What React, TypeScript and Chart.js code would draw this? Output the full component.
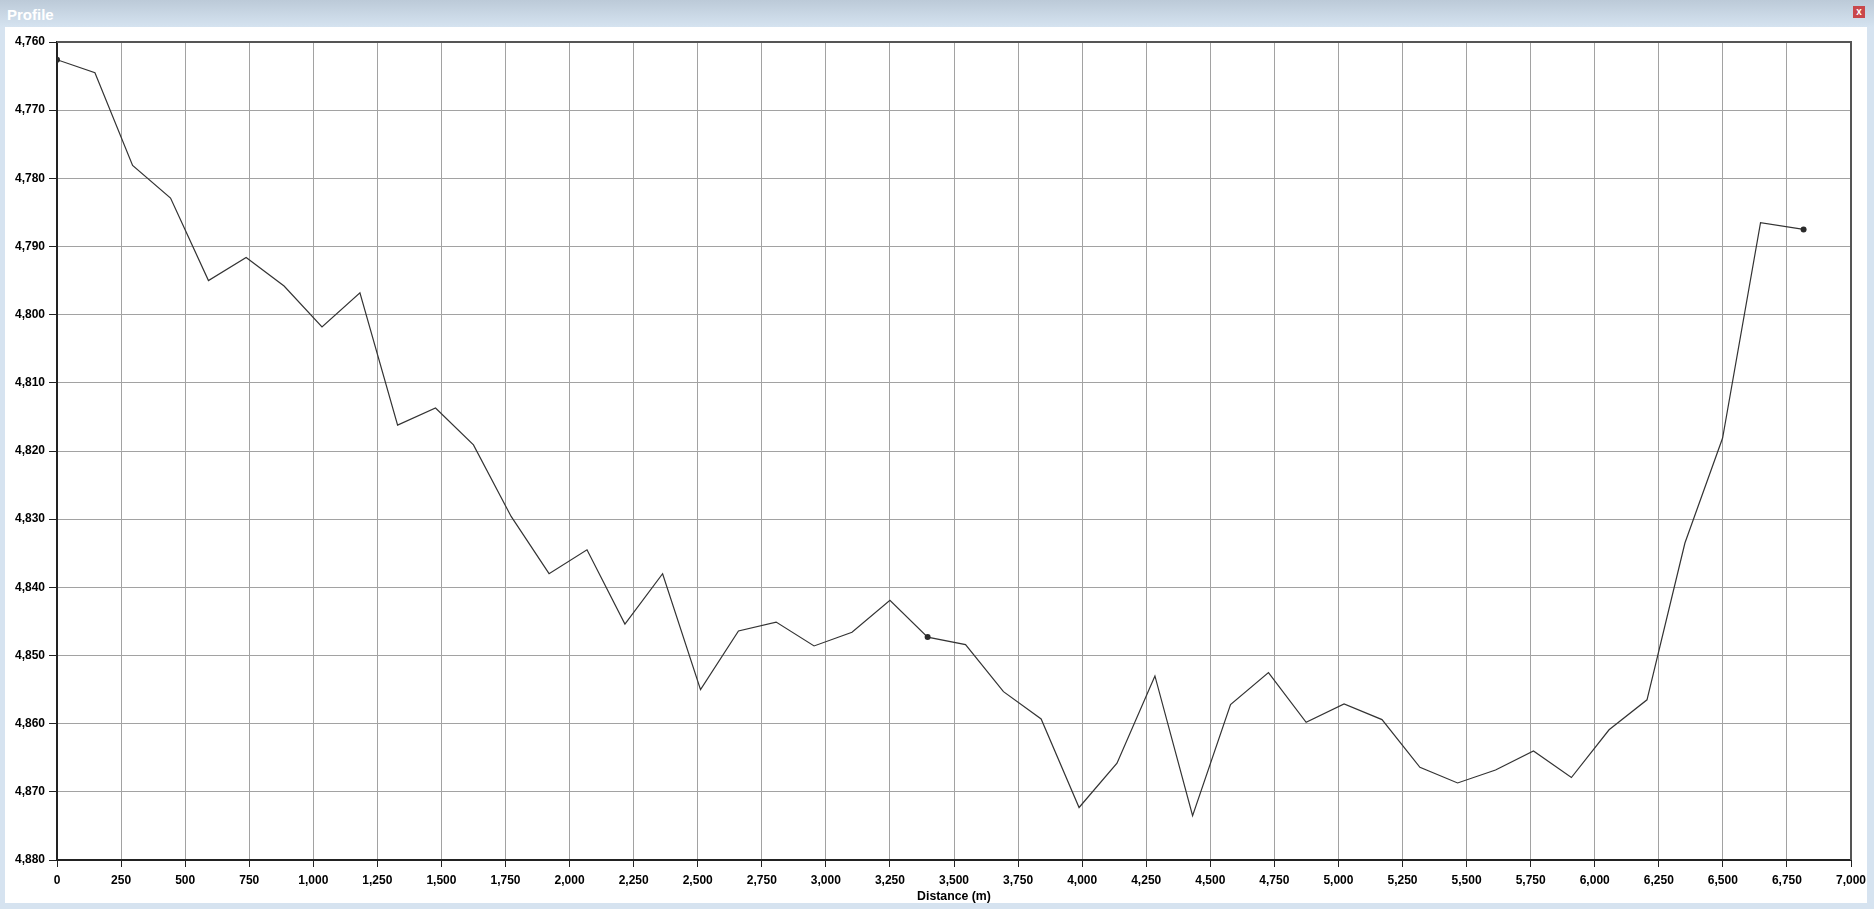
import React, { useEffect, useRef } from 'react';
import { Chart, registerables } from 'chart.js';

Chart.register(...registerables);

// Sample distances along the profile (m)
const distances = [
  0, 148, 295, 443, 591, 738, 886, 1034, 1182, 1329, 1477, 1625, 1772, 1920, 2068, 2216,
  2363, 2511, 2659, 2806, 2954, 3102, 3250, 3397, 3545, 3693, 3840, 3988, 4136, 4284, 4431,
  4579, 4727, 4874, 5022, 5170, 5318, 5465, 5613, 5761, 5909, 6056, 6204, 6352, 6499, 6647, 6815,
];

// Elevation at each sample (m)
const elevations = [
  4762.6, 4764.5, 4778.1, 4782.9, 4795.0, 4791.6, 4795.8, 4801.8, 4796.8, 4816.2, 4813.7,
  4819.1, 4829.6, 4838.0, 4834.5, 4845.4, 4838.0, 4855.0, 4846.4, 4845.1, 4848.6, 4846.6,
  4841.9, 4847.3, 4848.4, 4855.3, 4859.3, 4872.3, 4865.8, 4853.0, 4873.5, 4857.2, 4852.5,
  4859.8, 4857.1, 4859.4, 4866.4, 4868.7, 4866.8, 4864.0, 4867.9, 4860.9, 4856.5, 4833.5,
  4818.1, 4786.5, 4787.5,
];

// Vertices of the drawn profile line (shown as dots)
const markerIndices = [0, 23, 46];

const xRange = [0, 7000];
const xStep = 250;
const yRange = [4760, 4880];
const yStep = 10;

const titleText = 'Profile';
const xAxisTitle = 'Distance (m)';

const FONT = "'Liberation Sans', Arial, Helvetica, sans-serif";

export default function App() {
  const ref = useRef<HTMLCanvasElement>(null);

  useEffect(() => {
    document.body.style.margin = '0';
    const canvas = ref.current;
    if (!canvas) return;

    const framePlugin = {
      id: 'frame',
      afterDraw(chart: any) {
        const { ctx, chartArea } = chart;
        ctx.save();
        ctx.strokeStyle = '#555';
        ctx.lineWidth = 2;
        ctx.beginPath();
        ctx.moveTo(chartArea.left, chartArea.top);
        ctx.lineTo(chartArea.right, chartArea.top);
        ctx.lineTo(chartArea.right, chartArea.bottom);
        ctx.stroke();
        ctx.restore();
      },
    };

    const fmt = (v: any) => Number(v).toLocaleString('en-US');

    const chart = new Chart(canvas, {
      type: 'line',
      data: {
        datasets: [
          {
            data: distances.map((d, i) => ({ x: d, y: elevations[i] })),
            borderColor: '#333333',
            borderWidth: 1.2,
            pointRadius: (c: any) => (markerIndices.includes(c.dataIndex) ? 3 : 0),
            pointBackgroundColor: '#2a2a2a',
            pointBorderColor: '#2a2a2a',
            pointBorderWidth: 0,
            tension: 0,
            fill: false,
          },
        ],
      },
      options: {
        responsive: false,
        maintainAspectRatio: false,
        animation: false,
        layout: { padding: { left: 0, top: 15, right: 16, bottom: 0 } },
        plugins: {
          legend: { display: false },
          tooltip: { enabled: false },
        },
        scales: {
          x: {
            type: 'linear',
            min: xRange[0],
            max: xRange[1],
            ticks: {
              stepSize: xStep,
              autoSkip: false,
              maxRotation: 0,
              padding: 6.5,
              color: '#000',
              font: { family: FONT, size: 12, weight: 'bold' },
              callback: fmt,
            },
            grid: { color: '#a2a2a2', lineWidth: 1, tickColor: '#222', tickLength: 7 },
            border: { color: '#222', width: 2 },
            title: {
              display: true,
              text: xAxisTitle,
              color: '#000',
              font: { family: FONT, size: 12.3, weight: 'bold', lineHeight: 1 },
              padding: { top: 0, bottom: 0 },
            },
            afterFit: (s: any) => {
              s.height = 43;
              s.paddingLeft = 0;
              s.paddingRight = 0;
            },
          },
          y: {
            type: 'linear',
            reverse: true,
            min: yRange[0],
            max: yRange[1],
            ticks: {
              stepSize: yStep,
              padding: 4,
              color: '#000',
              font: { family: FONT, size: 12, weight: 'bold' },
              callback: fmt,
            },
            grid: { color: '#a2a2a2', lineWidth: 1, tickColor: '#222', tickLength: 8 },
            border: { color: '#222', width: 2 },
            afterFit: (s: any) => {
              s.width = 52;
            },
          },
        },
      },
      plugins: [framePlugin],
    } as any);

    return () => chart.destroy();
  }, []);

  return (
    <div
      style={{
        position: 'relative',
        width: 1874,
        height: 909,
        background: '#d6e3f0',
        overflow: 'hidden',
        fontFamily: FONT,
      }}
    >
      <div
        style={{
          position: 'absolute',
          left: 0,
          top: 0,
          width: 1874,
          height: 27,
          background: 'linear-gradient(#bccad8, #d5e3f0)',
        }}
      >
        <span
          style={{
            position: 'absolute',
            left: 7,
            top: 6,
            color: '#ffffff',
            fontWeight: 'bold',
            fontSize: 15,
            lineHeight: '18px',
          }}
        >
          {titleText}
        </span>
        <div
          style={{
            position: 'absolute',
            left: 1853,
            top: 6,
            width: 12,
            height: 12,
            background: '#c9474b',
            color: '#fff',
            fontSize: 10,
            fontWeight: 'bold',
            lineHeight: '11px',
            textAlign: 'center',
          }}
        >
          x
        </div>
      </div>
      <div
        style={{
          position: 'absolute',
          left: 5,
          top: 27,
          width: 1862,
          height: 876,
          background: '#ffffff',
        }}
      >
        <canvas ref={ref} width={1862} height={876} style={{ display: 'block' }} />
      </div>
    </div>
  );
}
